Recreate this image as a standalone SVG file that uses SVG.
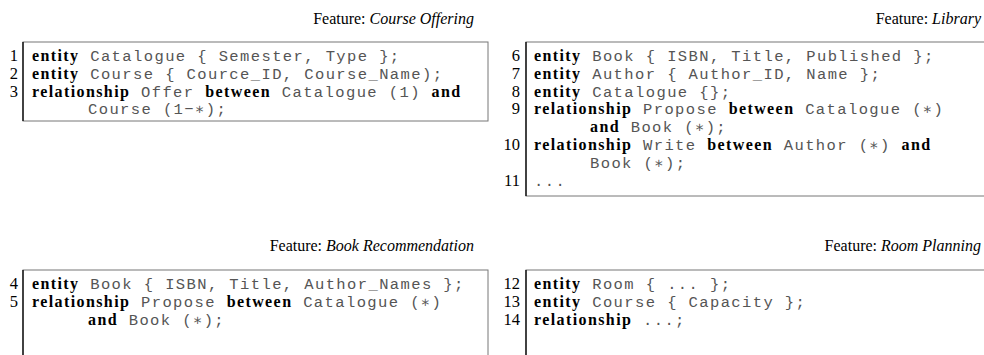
<svg xmlns="http://www.w3.org/2000/svg" width="984" height="355" viewBox="0 0 984 355">
<style>
.lbl{font-family:"Liberation Serif",serif;font-size:16px;fill:#000;text-anchor:end}
.lbl .it{font-style:italic}
.num{font-family:"Liberation Serif",serif;font-size:16.5px;fill:#000;text-anchor:end}
.code{font-family:"Liberation Mono","DejaVu Sans Mono",monospace;font-size:15.5px;letter-spacing:1.4px;fill:#555;white-space:pre}
.k{font-family:"Liberation Serif",serif;font-weight:bold;font-size:16px;fill:#000}
.fr{fill:none;stroke:#777;stroke-width:1}
.fl{stroke:#000;stroke-width:1.3}
</style>
<rect width="984" height="355" fill="#fff"/>
<g id="connectors"/>
<g id="course-offering">
<text class="lbl" x="474" y="24">Feature: <tspan class="it">Course Offering</tspan></text>
<rect class="fr" x="23" y="42" width="465" height="79"/>
<line class="fl" x1="23" y1="42" x2="23" y2="121"/>
<text class="num" x="18" y="61">1</text>
<text class="num" x="18" y="78.8">2</text>
<text class="num" x="18" y="96.6">3</text>
<text class="code" x="32" y="61"><tspan class="k">entity</tspan> Catalogue { Semester, Type };</text>
<text class="code" x="32" y="78.8"><tspan class="k">entity</tspan> Course { Cource_ID, Course_Name);</text>
<text class="code" x="32" y="96.6"><tspan class="k">relationship</tspan> Offer <tspan class="k">between</tspan> Catalogue (1) <tspan class="k">and</tspan></text>
<text class="code" x="88" y="114.4">Course (1−∗);</text>
</g>
<g id="library">
<text class="lbl" x="981" y="24">Feature: <tspan class="it">Library</tspan></text>
<rect class="fr" x="526" y="42" width="470" height="154"/>
<line class="fl" x1="526" y1="42" x2="526" y2="196"/>
<text class="num" x="520" y="61">6</text>
<text class="num" x="520" y="78.8">7</text>
<text class="num" x="520" y="96.6">8</text>
<text class="num" x="520" y="114.4">9</text>
<text class="num" x="520" y="150">10</text>
<text class="num" x="520" y="185.6">11</text>
<text class="code" x="534" y="61"><tspan class="k">entity</tspan> Book { ISBN, Title, Published };</text>
<text class="code" x="534" y="78.8"><tspan class="k">entity</tspan> Author { Author_ID, Name };</text>
<text class="code" x="534" y="96.6"><tspan class="k">entity</tspan> Catalogue {};</text>
<text class="code" x="534" y="114.4"><tspan class="k">relationship</tspan> Propose <tspan class="k">between</tspan> Catalogue (∗)</text>
<text class="code" x="590" y="132.2"><tspan class="k">and</tspan> Book (∗);</text>
<text class="code" x="534" y="150"><tspan class="k">relationship</tspan> Write <tspan class="k">between</tspan> Author (∗) <tspan class="k">and</tspan></text>
<text class="code" x="590" y="167.8">Book (∗);</text>
<text class="code" x="534" y="185.6">...</text>
</g>
<g id="book-recommendation">
<text class="lbl" x="474" y="251">Feature: <tspan class="it">Book Recommendation</tspan></text>
<rect class="fr" x="23" y="270" width="465" height="100"/>
<line class="fl" x1="23" y1="270" x2="23" y2="370"/>
<text class="num" x="18" y="289">4</text>
<text class="num" x="18" y="306.8">5</text>
<text class="code" x="32" y="289"><tspan class="k">entity</tspan> Book { ISBN, Title, Author_Names };</text>
<text class="code" x="32" y="306.8"><tspan class="k">relationship</tspan> Propose <tspan class="k">between</tspan> Catalogue (∗)</text>
<text class="code" x="88" y="324.6"><tspan class="k">and</tspan> Book (∗);</text>
</g>
<g id="room-planning">
<text class="lbl" x="981" y="251">Feature: <tspan class="it">Room Planning</tspan></text>
<rect class="fr" x="526" y="270" width="470" height="100"/>
<line class="fl" x1="526" y1="270" x2="526" y2="370"/>
<text class="num" x="520" y="289">12</text>
<text class="num" x="520" y="306.8">13</text>
<text class="num" x="520" y="324.6">14</text>
<text class="code" x="534" y="289"><tspan class="k">entity</tspan> Room { ... };</text>
<text class="code" x="534" y="306.8"><tspan class="k">entity</tspan> Course { Capacity };</text>
<text class="code" x="534" y="324.6"><tspan class="k">relationship</tspan> ...;</text>
</g>
</svg>
